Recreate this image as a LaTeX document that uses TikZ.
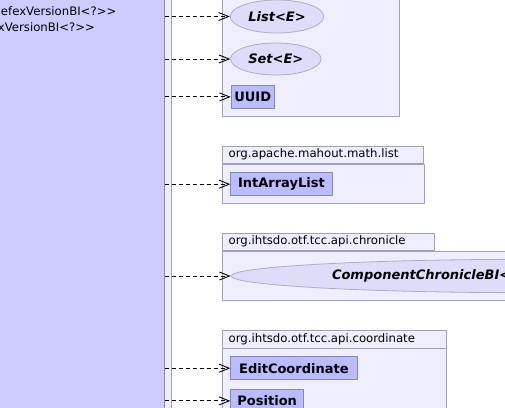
\documentclass[tikz,border=0pt]{standalone}
\usepackage{fontspec}
\setmainfont{DejaVu Sans}[Ligatures=TeXOff]
\usetikzlibrary{shapes.geometric, arrows.meta}
\definecolor{bigFill}{HTML}{CCCCFF}
\definecolor{classFill}{HTML}{BBBBFF}
\definecolor{pkgFill}{HTML}{EEEEFF}
\definecolor{ifaceFill}{HTML}{DDDDFA}
\definecolor{pkgLine}{HTML}{A0A0B8}
\definecolor{classLine}{HTML}{8888AA}
\newcommand{\pkgfont}{\fontsize{11.7pt}{14pt}\selectfont}
\newcommand{\classfont}{\fontsize{13pt}{15pt}\selectfont\bfseries}
\newcommand{\ifacefont}{\fontsize{13pt}{15pt}\selectfont\bfseries\itshape}
\tikzstyle{pkgBody} = [rectangle, draw=pkgLine, fill=pkgFill, line width=0.8pt, anchor=north west, inner sep=0]
\tikzstyle{pkgTab} = [rectangle, draw=pkgLine, fill=pkgFill, line width=0.8pt, anchor=south west, inner xsep=6pt, inner ysep=0, align=left, font=\pkgfont]
\tikzstyle{boxClass} = [rectangle, draw=classLine, fill=classFill, line width=0.8pt, anchor=north west, inner sep=0, minimum height=23pt, font=\classfont]
\tikzstyle{boxIface} = [ellipse, draw=classLine!70, fill=ifaceFill, line width=0.8pt, inner sep=0, font=\ifacefont]
\tikzstyle{depArrow} = [line width=0.9pt, dash pattern=on 4pt off 3pt, -{Straight Barb[length=10pt, width=8pt]}]

\begin{document}
\begin{tikzpicture}[x=1pt, y=-1pt]

\useasboundingbox (0,0) rectangle (505,407);
\clip (0,0) rectangle (505,407);

\node (outerPkg) [pkgBody, minimum width=190pt, minimum height=430pt, anchor=north east] at (172,-10) {};
\node (refexClass) [rectangle, draw=classLine, fill=bigFill, line width=0.8pt, minimum width=180pt, minimum height=430pt, anchor=north east] at (164.5,-10) {};
\node (refexLineA) [anchor=base west, inner sep=0, font=\pkgfont] at (0.8,15) {efexVersionBI<?>{}>};
\node (refexLineB) [anchor=base west, inner sep=0, font=\pkgfont] at (-2.3,31) {xVersionBI<?>{}>};

\node (utilPkg) [pkgBody, minimum width=177pt, minimum height=130pt] at (222.3,-14) {};
\node (listIface) [boxIface, minimum width=93.5pt, minimum height=33pt] at (277,16.5) {List<E>};
\node (setIface) [boxIface, minimum width=90.5pt, minimum height=32pt] at (275.8,59) {Set<E>};
\node (uuid) [boxClass, minimum width=43.3pt] at (230.7,85) {UUID};

\node (mahoutPkg) [pkgBody, minimum width=202pt, minimum height=39pt] at (222.3,164) {};
\node (mahoutTab) [pkgTab, minimum width=201pt, minimum height=17.7pt, text width=189pt] at (222.3,164) {org.apache.mahout.math.list};
\node (intArrayList) [boxClass, minimum width=101.4pt] at (230.3,172.3) {IntArrayList};

\node (chroniclePkg) [pkgBody, minimum width=300pt, minimum height=49pt] at (222.3,251) {};
\node (chronicleTab) [pkgTab, minimum width=212pt, minimum height=17.7pt, text width=200pt] at (222.3,251) {org.ihtsdo.otf.tcc.api.chronicle};
\node (componentChronicle) [boxIface, minimum width=600pt, minimum height=33.4pt, text width=398pt, align=left] at (531,276) {ComponentChronicleBI<};

\node (coordinatePkg) [pkgBody, minimum width=224pt, minimum height=70pt] at (222.3,348.3) {};
\node (coordinateTab) [pkgTab, minimum width=224pt, minimum height=17.6pt, text width=212pt] at (222.3,348.3) {org.ihtsdo.otf.tcc.api.coordinate};
\node (editCoordinate) [boxClass, minimum width=126.4pt] at (230.3,356.3) {EditCoordinate};
\node (position) [boxClass, minimum width=73pt] at (230.3,389) {Position};

\draw [depArrow] (refexClass.east |- listIface.west) -- (listIface.west);
\draw [depArrow] (refexClass.east |- setIface.west) -- (setIface.west);
\draw [depArrow] (refexClass.east |- uuid.west) -- (uuid.west);
\draw [depArrow] (refexClass.east |- intArrayList.west) -- (intArrayList.west);
\draw [depArrow] (refexClass.east |- componentChronicle.west) -- (componentChronicle.west);
\draw [depArrow] (refexClass.east |- editCoordinate.west) -- (editCoordinate.west);
\draw [depArrow] (refexClass.east |- position.west) -- (position.west);

\end{tikzpicture}
\end{document}
